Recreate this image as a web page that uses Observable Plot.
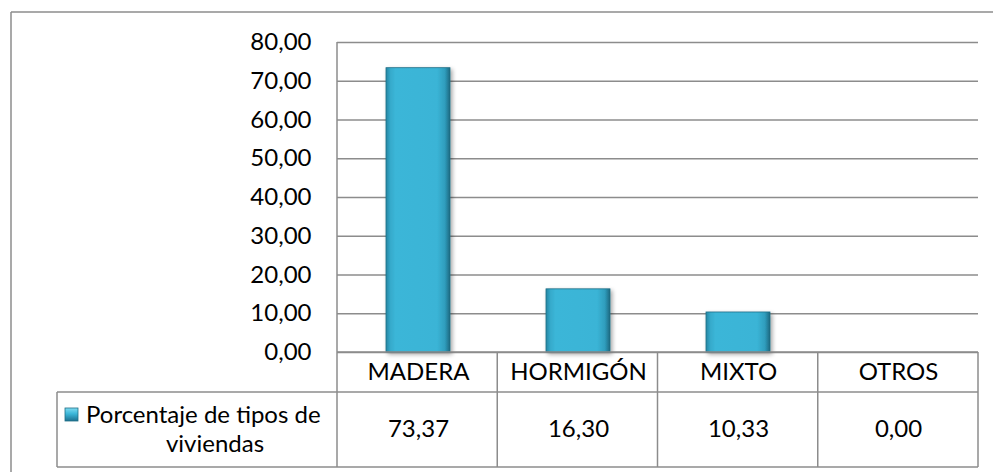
<!DOCTYPE html>
<html>
<head>
<meta charset="utf-8">
<script src="https://cdn.jsdelivr.net/npm/d3@7"></script>
<script src="https://cdn.jsdelivr.net/npm/@observablehq/plot@0.6"></script>
<style>
  html, body { margin: 0; padding: 0; background: #fff; }
  #chart { position: relative; width: 993px; height: 472px; overflow: hidden; }
  #chart svg { position: absolute; left: 0; top: 0; }
</style>
</head>
<body>
<div id="chart"></div>
<script>
const categories = ["MADERA", "HORMIGÓN", "MIXTO", "OTROS"];
const values = [73.37, 16.30, 10.33, 0.00];
const yTicks = [0, 10, 20, 30, 40, 50, 60, 70, 80];
const seriesLine1 = "Porcentaje de tipos de";
const seriesLine2 = "viviendas";

const fmt = d => d.toFixed(2).replace(".", ",");
const data = categories.map((c, i) => ({cat: c, value: values[i]}));

const FONT = "Lato, 'Noto Sans', sans-serif";
const LINE = "#8c8c8c";

const chart = Plot.plot({
  width: 993,
  height: 472,
  marginLeft: 337,
  marginRight: 15,
  marginTop: 42,
  marginBottom: 120,
  style: {fontFamily: FONT, fontSize: "24px", color: "#000", background: "transparent", overflow: "visible"},
  x: {domain: categories, paddingInner: 0.6, paddingOuter: 0.3, axis: null},
  y: {domain: [0, 80], axis: null},
  marks: [
    Plot.gridY(yTicks, {stroke: LINE, strokeOpacity: 1, strokeWidth: 1.5}),
    Plot.axisY(yTicks, {tickSize: 0, tickPadding: 26, tickFormat: fmt, fontSize: 24, label: null}),
    Plot.barY(data, {x: "cat", y: "value", fill: "url(#barGrad)", stroke: "#1f6e86", strokeWidth: 0.8, filter: d => d.value > 0}),
    Plot.text(data, {x: "cat", frameAnchor: "bottom", lineAnchor: "middle", dy: 20, text: "cat", fontSize: 24, fill: "#000"}),
    Plot.text(data, {x: "cat", frameAnchor: "bottom", lineAnchor: "middle", dy: 77, text: d => fmt(d.value), fontSize: 24, fill: "#000"})
  ]
});

document.getElementById("chart").appendChild(chart);

// Decorations (gradient, shadow, data table borders, legend) using the plot's scales
const svg = d3.select(chart);
const xs = chart.scale("x");
const ys = chart.scale("y");
const x0 = xs.range[0], x1 = xs.range[1];
const step = (x1 - x0) / categories.length;
const yBase = ys.apply(0);
const yTop = ys.apply(80);
const rowLine = yBase + 40;
const tableBottom = yBase + 115;
const legendLeft = 57;

const defs = svg.insert("defs", ":first-child");
const g = defs.append("linearGradient").attr("id", "barGrad").attr("x1", "0").attr("x2", "1").attr("y1", "0").attr("y2", "0");
[["0%", "#2586a3"], ["7%", "#36aacb"], ["15%", "#3bb6d8"], ["80%", "#3ab4d6"], ["92%", "#2f9dbd"], ["100%", "#1b6880"]]
  .forEach(([o, c]) => g.append("stop").attr("offset", o).attr("stop-color", c));
const f = defs.append("filter").attr("id", "shadow").attr("x", "-20%").attr("y", "-5%").attr("width", "150%").attr("height", "120%");
f.append("feDropShadow").attr("dx", 2).attr("dy", 2).attr("stdDeviation", 2).attr("flood-color", "#000").attr("flood-opacity", 0.35);
svg.selectAll("g[aria-label='bar'] rect").attr("filter", "url(#shadow)");

const lines = svg.append("g").attr("stroke", LINE).attr("stroke-width", 1.5).attr("fill", "none");
function ln(xa, ya, xb, yb) { lines.append("line").attr("x1", xa).attr("y1", ya).attr("x2", xb).attr("y2", yb); }
// outer chart frame
ln(11, 12, 993, 12);
ln(11, 12, 11, 472);
// plot left axis + table left
ln(x0, yTop, x0, tableBottom);
// table horizontals
ln(x0, yBase, x1, yBase);
ln(legendLeft, rowLine, x1, rowLine);
ln(legendLeft, tableBottom, x1, tableBottom);
// column dividers
for (let i = 1; i <= categories.length; i++) ln(x0 + i * step, yBase, x0 + i * step, tableBottom);
ln(legendLeft, rowLine, legendLeft, tableBottom);

// legend cell
const lg = svg.append("g").attr("font-family", FONT).attr("font-size", 24).attr("fill", "#000").attr("text-anchor", "start");
const lgd = defs.append("linearGradient").attr("id", "keyGrad").attr("x1", "0").attr("x2", "0").attr("y1", "0").attr("y2", "1");
[["0%", "#7fdcf2"], ["45%", "#3bb6d8"], ["100%", "#1d7090"]].forEach(([o, c]) => lgd.append("stop").attr("offset", o).attr("stop-color", c));
lg.append("rect").attr("x", 65).attr("y", rowLine + 16).attr("width", 13).attr("height", 13)
  .attr("fill", "url(#keyGrad)").attr("stroke", "#1f6e86").attr("stroke-width", 0.8);
lg.append("text").attr("x", 86).attr("y", rowLine + 23).attr("dy", "0.35em").attr("text-anchor", "start").text(seriesLine1);
lg.append("text").attr("x", 215).attr("y", rowLine + 52).attr("dy", "0.35em").attr("text-anchor", "middle").text(seriesLine2);
</script>
</body>
</html>
